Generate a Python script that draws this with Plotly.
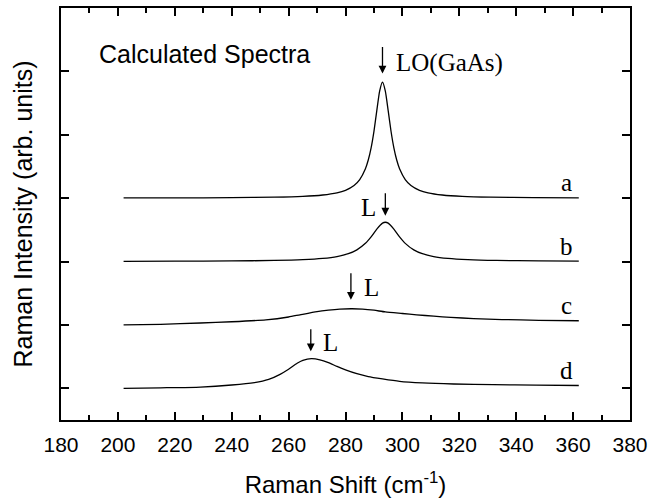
import plotly.graph_objects as go

# ---------------- data ----------------
a_x = [202, 220, 240, 255, 265, 272, 277, 280, 283, 285, 287, 288, 289, 290, 291, 292, 293,
       294, 295, 296, 297, 298, 299, 301, 303, 306, 309, 314, 321, 331, 346, 362]
a_y = [3.003, 3.004, 3.008, 3.015, 3.028, 3.050, 3.084, 3.124, 3.200, 3.294, 3.465, 3.602, 3.794,
       4.055, 4.380, 4.690, 4.830, 4.690, 4.380, 4.055, 3.794, 3.602, 3.465, 3.294, 3.200, 3.124,
       3.084, 3.050, 3.028, 3.015, 3.008, 3.005]

b_x = [202, 220, 240, 255, 265, 272, 277, 281, 284, 287, 289, 291, 293, 294, 295, 297, 299,
       301, 304, 307, 311, 316, 323, 333, 348, 362]
b_y = [2.003, 2.005, 2.009, 2.017, 2.030, 2.050, 2.079, 2.124, 2.184, 2.287, 2.390, 2.511, 2.606,
       2.620, 2.606, 2.511, 2.390, 2.287, 2.184, 2.124, 2.079, 2.050, 2.030, 2.017, 2.010, 2.008]

c_x = [202, 215, 229, 240, 252, 260, 264, 270, 274, 278, 282, 286, 290, 294, 300, 305, 311,
       317, 325, 335, 348, 362]
c_y = [1.000, 1.010, 1.030, 1.050, 1.080, 1.125, 1.160, 1.210, 1.232, 1.248, 1.255, 1.250, 1.232,
       1.205, 1.180, 1.160, 1.138, 1.120, 1.100, 1.085, 1.073, 1.066]

d_x = [202, 215, 229, 240, 248, 253, 257, 260, 263, 265, 268, 271, 274, 277, 280, 284, 288,
       293, 299, 307, 318, 332, 347, 362]
d_y = [0.000, 0.008, 0.020, 0.052, 0.090, 0.140, 0.220, 0.300, 0.395, 0.440, 0.468, 0.450, 0.405,
       0.345, 0.290, 0.230, 0.185, 0.148, 0.110, 0.085, 0.068, 0.057, 0.050, 0.044]

curve_labels = ["a", "b", "c", "d"]
peak_labels = ["LO(GaAs)", "L", "L", "L"]
peak_positions = [293.0, 294.0, 281.9, 267.8]

x_ticks = [180, 200, 220, 240, 260, 280, 300, 320, 340, 360, 380]

SANS = "Liberation Sans, Arial, Helvetica, sans-serif"
SERIF = "Liberation Serif, Times New Roman, serif"

fig = go.Figure()
for xs, ys in [(a_x, a_y), (b_x, b_y), (c_x, c_y), (d_x, d_y)]:
    fig.add_trace(go.Scatter(x=xs, y=ys, mode="lines",
                             line=dict(color="black", width=1.3, shape="spline", smoothing=0.6),
                             showlegend=False, hoverinfo="skip"))

annotations = []
# curve letters at right
label_pos = [(357.6, 3.245), (357.6, 2.234), (357.6, 1.303), (357.6, 0.276)]
for lab, (lx, ly) in zip(curve_labels, label_pos):
    annotations.append(dict(x=lx, y=ly, xref="x", yref="y", text=lab, showarrow=False,
                            font=dict(family=SERIF, size=25, color="black"),
                            xanchor="center", yanchor="middle"))

# arrows (head y, tail y)
arrow_ys = [(4.966, 5.41), (2.724, 3.103), (1.397, 1.84), (0.584, 0.955)]
for px_, (hy, ty) in zip(peak_positions, arrow_ys):
    annotations.append(dict(x=px_, y=hy, ax=px_, ay=ty, xref="x", yref="y", axref="x", ayref="y",
                            text="", showarrow=True, arrowhead=2, arrowsize=1.2,
                            arrowwidth=1.3, arrowcolor="black", standoff=0, startstandoff=0))

# peak labels
peak_label_pos = [(297.0, 5.14, "left"), (288.25, 2.85, "center"),
                  (289.1, 1.587, "center"), (274.7, 0.718, "center")]
for lab, (lx, ly, anc) in zip(peak_labels, peak_label_pos):
    annotations.append(dict(x=lx, y=ly, xref="x", yref="y", text=lab, showarrow=False,
                            font=dict(family=SERIF, size=25, color="black"),
                            xanchor=anc, yanchor="middle"))

annotations.append(dict(x=192.7, y=5.27, xref="x", yref="y", text="Calculated Spectra",
                        showarrow=False, font=dict(family=SANS, size=25, color="black"),
                        xanchor="left", yanchor="middle"))

fig.update_layout(
    width=650, height=498,
    margin=dict(l=61, r=20, t=8, b=78, autoexpand=False),
    paper_bgcolor="white", plot_bgcolor="white",
    annotations=annotations,
    font=dict(family=SANS, color="black"),
)

fig.update_xaxes(
    range=[180, 380], tickmode="array", tickvals=x_ticks, ticktext=[str(v) for v in x_ticks],
    ticks="inside", ticklen=8, tickwidth=1.5, tickcolor="black",
    minor=dict(ticks="inside", ticklen=5, tickwidth=1.5, tickcolor="black", dtick=10, tick0=180,
               showgrid=False),
    showline=True, linewidth=2, linecolor="black", mirror="allticks",
    showgrid=False, zeroline=False, automargin=False,
    tickfont=dict(family=SANS, size=21, color="black"),
    ticklabelstandoff=5,
    title=dict(text="Raman Shift (cm<sup>-1</sup>)", font=dict(family=SANS, size=24, color="black"),
               standoff=21),
)

fig.update_yaxes(
    range=[-0.5, 6.0], tick0=0, dtick=1,
    ticks="inside", ticklen=8, tickwidth=1.5, tickcolor="black",
    showticklabels=False,
    showline=True, linewidth=2, linecolor="black", mirror="allticks",
    showgrid=False, zeroline=False, automargin=False,
    title=dict(text="Raman Intensity (arb. units)", font=dict(family=SANS, size=25, color="black"),
               standoff=19),
)

fig.write_html("out.html")
